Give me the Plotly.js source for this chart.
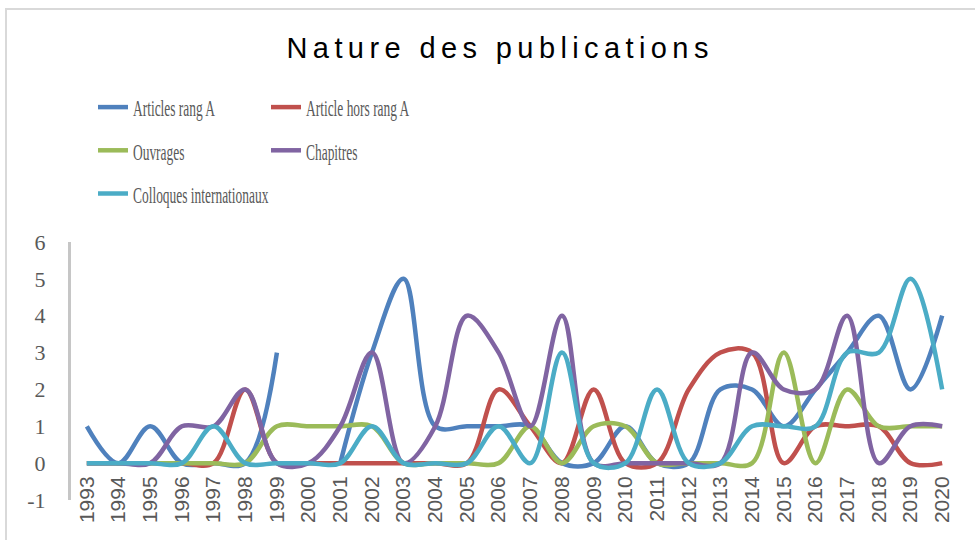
<!DOCTYPE html>
<html>
<head>
<meta charset="utf-8">
<script src="https://cdn.plot.ly/plotly-3.0.1.min.js"></script>
<style>
  html, body { margin: 0; padding: 0; background: #ffffff; }
  #frame { position: absolute; left: 5px; top: 8px; width: 1100px; height: 700px; border-left: 2px solid #d9d9d9; border-top: 2px solid #d9d9d9; }
  #chart { position: absolute; left: 0; top: 0; width: 975px; height: 540px; }
  .gtitle { letter-spacing: 5.4px; }
  text.legendtext, text.legend2text { transform-box: fill-box; transform-origin: 0 50%; transform: scaleX(0.56); }
</style>
</head>
<body>
<div id="frame"></div>
<div id="chart"></div>
<script>
const years = [1993,1994,1995,1996,1997,1998,1999,2000,2001,2002,2003,2004,2005,2006,2007,2008,2009,2010,2011,2012,2013,2014,2015,2016,2017,2018,2019,2020];

const articlesRangA   = [1,0,1,0,0,0,3,null,0,3,5,1,1,1,1,0,0,1,0,0,2,2,1,2,3,4,2,4];
const articleHorsRang = [0,0,0,0,0,2,0,0,0,0,0,0,0,2,1,0,2,0,0,2,3,3,0,1,1,1,0,0];
const ouvrages        = [0,0,0,0,0,0,1,1,1,1,0,0,0,0,1,0,1,1,0,0,0,0,3,0,2,1,1,1];
const chapitres       = [0,0,0,1,1,2,0,0,1,3,0,1,4,3,1,4,0,0,0,0,0,3,2,2,4,0,1,1];
const colloques       = [0,0,0,0,1,0,0,0,0,1,0,0,0,1,0,3,0,0,2,0,0,1,1,1,3,3,5,2];

const seriesNames  = ["Articles rang A","Article hors rang A","Ouvrages","Chapitres","Colloques internationaux"];
const seriesValues = [articlesRangA, articleHorsRang, ouvrages, chapitres, colloques];
const seriesColors = ["#4F81BD","#C0504D","#9BBB59","#8064A2","#4BACC6"];
const seriesLegend = ["legend","legend2","legend","legend2","legend"];
const yTicks = [-1,0,1,2,3,4,5,6];

const traces = seriesNames.map((name, i) => ({
  type: "scatter",
  mode: "lines",
  name: name,
  x: years,
  y: seriesValues[i],
  connectgaps: false,
  legend: seriesLegend[i],
  legendgroup: "g" + i,
  line: { color: seriesColors[i], width: 4.5, shape: "spline", smoothing: 1 }
}));

const legendFont = { family: "Liberation Serif, serif", size: 24, color: "#595959" };

const layout = {
  width: 975,
  height: 540,
  paper_bgcolor: "rgba(0,0,0,0)",
  plot_bgcolor: "rgba(0,0,0,0)",
  margin: { l: 71, r: 17, t: 242, b: 40, autoexpand: false },
  title: {
    text: "Nature des publications",
    font: { family: "Liberation Sans, Arial, sans-serif", size: 29, color: "#000000" },
    x: 0.513, xref: "container", xanchor: "center",
    y: 1 - 48/540, yref: "container", yanchor: "middle",
    automargin: false
  },
  showlegend: true,
  legend: {
    xref: "container", yref: "container",
    x: 93/975, y: 1 - 85/540, xanchor: "left", yanchor: "top",
    font: legendFont, bgcolor: "rgba(0,0,0,0)",
    traceorder: "grouped", tracegroupgap: 9, orientation: "v"
  },
  legend2: {
    xref: "container", yref: "container",
    x: 266/975, y: 1 - 85/540, xanchor: "left", yanchor: "top",
    font: legendFont, bgcolor: "rgba(0,0,0,0)",
    traceorder: "grouped", tracegroupgap: 9, orientation: "v"
  },
  xaxis: {
    range: [1992.5, 2020.5],
    tickmode: "array",
    tickvals: years,
    ticktext: years.map(String),
    tickangle: -90,
    anchor: "free",
    position: 1/7,
    automargin: false,
    showgrid: false, zeroline: false, showline: false,
    ticks: "",
    ticklabelstandoff: 8,
    tickfont: { family: "Liberation Sans, Arial, sans-serif", size: 21, color: "#595959" }
  },
  yaxis: {
    range: [-1, 6],
    tickmode: "array",
    tickvals: yTicks,
    ticktext: yTicks.map(String),
    automargin: false,
    showgrid: false, zeroline: false,
    showline: true, linecolor: "#c6c6c6", linewidth: 3,
    ticks: "",
    ticklabelstandoff: 18,
    tickfont: { family: "Liberation Serif, serif", size: 22, color: "#595959" }
  }
};

Plotly.newPlot("chart", traces, layout, { displayModeBar: false, staticPlot: true });
</script>
</body>
</html>
